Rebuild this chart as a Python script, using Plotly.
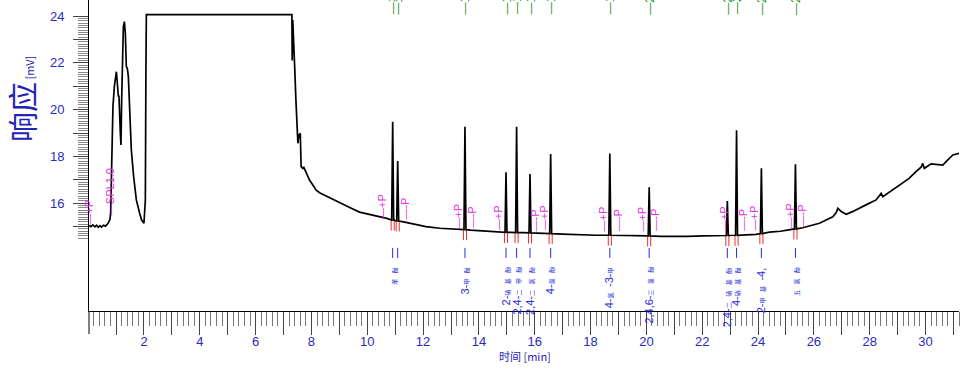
import plotly.graph_objects as go

# ---------------- data ----------------
# background signal (time [min], response [mV])
base_t = [0.03, 0.10, 0.17, 0.24, 0.30, 0.36, 0.42, 0.48, 0.55, 0.62, 0.70, 0.78, 0.806, 0.867,
          0.888, 0.938, 0.974, 1.010, 1.046, 1.082, 1.103, 1.153, 1.175, 1.200, 1.225, 1.261,
          1.297, 1.332, 1.368, 1.404, 1.440, 1.486, 1.547, 1.630, 1.726, 1.845, 1.916, 1.999,
          2.049, 2.070, 2.085, 7.299, 7.31, 7.33, 7.36, 7.40, 7.44, 7.48, 7.514, 7.55, 7.60,
          7.63, 7.69, 7.72, 7.815, 7.88, 7.93, 8.05, 8.17, 8.29, 8.65, 9.01, 9.37, 9.72, 10.10,
          10.44, 10.70, 11.30, 11.60, 12.10, 12.60, 13.00, 13.30, 13.70, 14.20, 14.70, 15.15,
          15.60, 16.10, 16.30, 17.00, 17.60, 18.20, 19.00, 19.50, 20.50, 20.83, 21.50, 22.00,
          22.62, 23.60, 23.93, 24.41, 24.80, 25.13, 25.60, 25.90, 26.20, 26.44, 26.68, 26.80,
          26.86, 26.98, 27.16, 27.40, 27.64, 27.90, 28.23, 28.35, 28.41, 28.47, 28.80, 29.07,
          29.40, 29.66, 29.85, 29.90, 29.96, 30.20, 30.40, 30.62, 30.80, 30.98, 31.21]
base_v = [15.05, 15.00, 15.07, 14.99, 15.06, 14.97, 15.04, 14.98, 15.06, 15.02, 15.12, 15.30, 15.58, 18.14,
          20.12, 20.98, 21.48, 21.62, 21.12, 20.55, 20.60, 18.99, 18.49, 20.41, 22.55, 23.54,
          23.76, 23.26, 21.83, 21.76, 21.41, 19.70, 18.27, 17.13, 16.14, 15.57, 15.28, 15.14,
          16.14, 21.83, 24.06, 24.06, 22.10, 23.83, 22.50, 21.80, 20.50, 19.30, 18.56, 18.90, 18.99,
          17.56, 17.49, 17.55, 17.28, 17.15, 16.99, 16.78, 16.56, 16.45, 16.25, 16.02, 15.82, 15.62, 15.52,
          15.45, 15.35, 15.20, 15.12, 15.00, 14.93, 14.90, 14.87, 14.85, 14.80, 14.76, 14.75,
          14.74, 14.72, 14.71, 14.68, 14.64, 14.63, 14.62, 14.60, 14.58, 14.57, 14.58, 14.60,
          14.61, 14.64, 14.67, 14.76, 14.80, 14.85, 14.95, 15.03, 15.14, 15.28, 15.42, 15.60,
          15.78, 15.64, 15.53, 15.65, 15.78, 15.95, 16.14, 16.30, 16.42, 16.28, 16.55, 16.78,
          17.05, 17.35, 17.55, 17.70, 17.49, 17.68, 17.66, 17.63, 17.85, 18.06, 18.13]

# integrated peaks
peak_t = [10.91, 11.09, 13.50, 14.97, 15.35, 15.83, 16.57, 18.69, 20.10, 22.90, 23.23, 24.12, 25.34]
peak_h = [19.48, 17.80, 19.27, 17.32, 19.27, 17.25, 18.10, 18.12, 16.68, 16.09, 19.12, 17.49, 17.66]
peak_b = [15.28, 15.24, 14.87, 14.75, 14.74, 14.73, 14.70, 14.63, 14.60, 14.62, 14.63, 14.70, 14.90]
peak_names = ["苯酚", "", "3-甲酚", "2-硝基酚", "2,4-二甲酚", "2,4-二氯酚", "4-氯酚",
              "4-氯-3-甲", "2,4,6-三氯酚", "2,4-二硝基酚", "4-硝基酚", "2-甲基-4,", "五氯酚"]

# integration events (magenta)
event_text = ["—+P", "—SPL1.0", "—+P", "—-P", "—+P", "—-P", "—+P", "—-P", "—+P",
              "—+P", "—-P", "—+P", "—-P", "—+P", "—-P", "—+P", "—+P", "—-P"]
event_t = [0.05, 0.77, 10.55, 11.34, 13.25, 13.76, 14.71, 16.02, 16.36,
           18.44, 18.98, 19.84, 20.33, 22.76, 23.45, 23.84, 25.13, 25.56]
event_v = [15.00, 15.41, 15.25, 15.20, 14.85, 14.85, 14.77, 14.72, 14.77,
           14.72, 14.72, 14.72, 14.72, 14.72, 14.72, 14.75, 14.85, 14.90]

x_major = list(range(1, 32))
x_labels = [str(v) if v % 2 == 0 else "" for v in x_major]
y_major = list(range(15, 25))
y_labels = [str(v) if v % 2 == 0 else "" for v in y_major]

# ---------------- build the figure ----------------
HW = 0.035
pts = list(zip(base_t, base_v))
for t, h, b in zip(peak_t, peak_h, peak_b):
    pts += [(t - HW, b), (t, h), (t + HW, b)]
pts.sort(key=lambda p: p[0])
sig_x = [p[0] for p in pts]
sig_y = [p[1] for p in pts]

fig = go.Figure()

# red baseline markers
rx, ry = [], []
for t, b in zip(peak_t, peak_b):
    rx += [t - 0.055, t - 0.055, t + 0.055, t + 0.055, None]
    ry += [b - 0.45, b, b, b - 0.45, None]
fig.add_trace(go.Scatter(x=rx, y=ry, mode="lines", line=dict(color="#e8302c", width=1),
                         hoverinfo="skip", showlegend=False))

fig.add_trace(go.Scatter(x=sig_x, y=sig_y, mode="lines", line=dict(color="black", width=1.7),
                         showlegend=False))

# blue peak ticks
bx, by = [], []
for t in peak_t:
    bx += [t, t, None]
    by += [14.09, 13.66, None]
fig.add_trace(go.Scatter(x=bx, y=by, mode="lines", line=dict(color="#2a2ae0", width=1),
                         hoverinfo="skip", showlegend=False))


def small_cjk(s):
    out = []
    for ch in s:
        if ord(ch) > 0x2E80:
            out.append('<span style="font-size:6px">' + ch + '</span>\u2002')
        else:
            out.append(ch)
    return "".join(out).rstrip("\u2002")


ann = []
for t, name in zip(peak_t, peak_names):
    if name:
        ann.append(dict(x=t, y=13.36, xref="x", yref="y", text=small_cjk(name), textangle=-90,
                        showarrow=False, xanchor="center", yanchor="top",
                        font=dict(size=11, color="#2a2ae0", family="Liberation Sans, Noto Sans CJK SC")))
    ann.append(dict(x=t, y=1 - 16.5 / 311, xref="x", yref="paper", text="—%.2f" % t, textangle=-90,
                    showarrow=False, xanchor="center", yanchor="bottom",
                    font=dict(size=12, color="#2e9a2e", family="Liberation Sans")))
for txt, t, v in zip(event_text, event_t, event_v):
    ann.append(dict(x=t, y=v, xref="x", yref="y", text=txt, textangle=-90, showarrow=False,
                    xanchor="center", yanchor="bottom",
                    font=dict(size=11, color="#e030e0", family="Liberation Sans")))

ann.append(dict(x=-(89 - 21) / 870, y=1 - 99 / 311, xref="paper", yref="paper",
                text='<span style="font-size:30px">响应</span> [mV]', textangle=-90,
                showarrow=False, xanchor="center", yanchor="middle",
                font=dict(size=11, color="#2424b4", family="Noto Sans CJK SC")))
ann.append(dict(x=0.501, y=-(356 - 311) / 311, xref="paper", yref="paper",
                text="时间 [min]", showarrow=False, xanchor="center", yanchor="middle",
                font=dict(size=11, color="#2424b4", family="Noto Sans CJK SC")))

minor_x = [round(i * 0.2, 2) for i in range(1, 157) if i % 5 != 0]
minor_y = [round(14.5 + i * 0.1, 2) for i in range(0, 96) if (i % 10) != 5]

fig.update_layout(
    width=969, height=377,
    margin=dict(l=89, r=10, t=0, b=66, autoexpand=False),
    paper_bgcolor="white", plot_bgcolor="white",
    annotations=ann,
    xaxis=dict(range=[0.03, 31.2], automargin=False, showgrid=False, zeroline=False, showline=True,
               linecolor="black", linewidth=1, ticks="outside", ticklen=23, tickwidth=1,
               tickcolor="#444", tickmode="array", tickvals=x_major, ticktext=x_labels,
               tickfont=dict(size=13, color="#2a2ac0", family="Liberation Sans"),
               ticklabelstandoff=-5,
               minor=dict(tickmode="array", tickvals=minor_x, ticklen=14, tickwidth=1,
                          tickcolor="#777", ticks="outside", showgrid=False)),
    yaxis=dict(range=[11.393, 24.684], automargin=False, showgrid=False, zeroline=False, showline=True,
               linecolor="black", linewidth=1, ticks="outside", ticklen=15, tickwidth=1,
               tickcolor="#444", tickmode="array", tickvals=y_major, ticktext=y_labels,
               tickfont=dict(size=13, color="#2a2ac0", family="Liberation Sans"),
               ticklabelstandoff=6,
               minor=dict(tickmode="array", tickvals=minor_y, ticklen=10, tickwidth=1,
                          tickcolor="#888", ticks="outside", showgrid=False)),
    shapes=[dict(type="line", xref="paper", yref="paper", x0=0, x1=0, y0=0, y1=-23 / 311,
                 line=dict(color="black", width=1))],
)

fig.write_html("out.html", config={"displayModeBar": False},
               post_script="document.body.style.margin='0';document.body.style.overflow='hidden';")
